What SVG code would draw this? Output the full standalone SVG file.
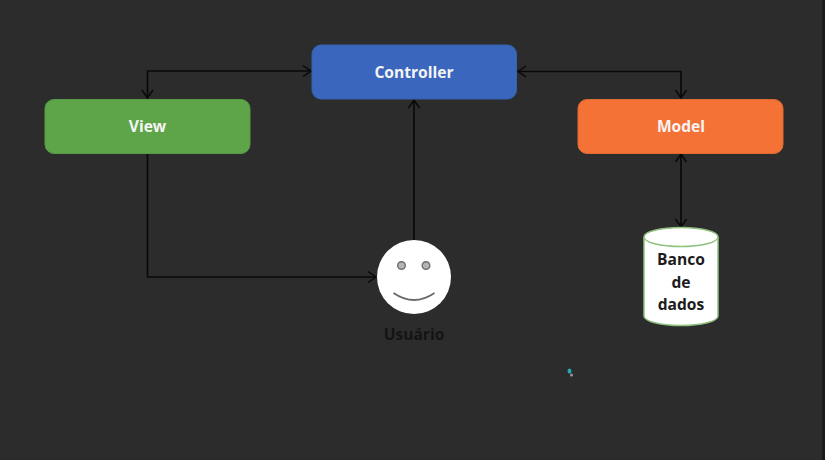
<svg xmlns="http://www.w3.org/2000/svg" width="825" height="460" viewBox="0 0 825 460">
<defs>
<marker id="arrow" markerWidth="14" markerHeight="14" refX="11" refY="7" orient="auto-start-reverse" markerUnits="userSpaceOnUse">
<path d="M3 1.500 L11 7 L3 12.500" fill="none" stroke="#080808" stroke-width="1.500"/>
</marker>
</defs>
<style>
.box{stroke-width:1}
.lbl{font-family:"Open Sans","Liberation Sans",sans-serif;font-weight:700;font-size:15.600px;fill:#f4f4f4;text-anchor:middle}
.dark{font-family:"Open Sans","Liberation Sans",sans-serif;font-weight:700;font-size:15.600px;fill:#1c1c1c;text-anchor:middle}
.conn{fill:none;stroke:#080808;stroke-width:1.600}
</style>
<rect width="825" height="460" fill="#2c2c2c"/>
<rect x="822" width="3" height="460" fill="#1b1b1b"/>
<g id="connectors">
<path class="conn" d="M311 71 H147.500 V98" marker-start="url(#arrow)" marker-end="url(#arrow)"/>
<path class="conn" d="M518 71.500 H681 V98" marker-start="url(#arrow)" marker-end="url(#arrow)"/>
<path class="conn" d="M147.500 154 V277 H376" marker-end="url(#arrow)"/>
<path class="conn" d="M414 240 V100" marker-end="url(#arrow)"/>
<path class="conn" d="M681 154 V227" marker-start="url(#arrow)" marker-end="url(#arrow)"/>
</g>
<g id="controller">
<rect class="box" x="312" y="45" width="204.500" height="54" rx="9" fill="#3b66bd" stroke="#3560ae"/>
<text class="lbl" x="414" y="78">Controller</text>
</g>
<g id="view">
<rect class="box" x="45" y="99.500" width="205" height="54" rx="9" fill="#5ea549" stroke="#569a44"/>
<text class="lbl" x="147.500" y="132">View</text>
</g>
<g id="model">
<rect class="box" x="578" y="99.500" width="205" height="54" rx="9" fill="#f47236" stroke="#e06a32"/>
<text class="lbl" x="681" y="132">Model</text>
</g>
<g id="usuario">
<circle cx="414" cy="277" r="37" fill="#fff"/>
<circle cx="401.500" cy="265.500" r="3.800" fill="#b5b5b5" stroke="#6d6d6d" stroke-width="1.400"/>
<circle cx="426" cy="265.500" r="3.800" fill="#b5b5b5" stroke="#6d6d6d" stroke-width="1.400"/>
<path d="M393.500 293 Q414 307 434.500 293" fill="none" stroke="#6a6a6a" stroke-width="1.800"/>
<text class="dark" x="414" y="340" style="fill:#141414">Usuário</text>
</g>
<g id="banco">
<path d="M644 237 A37 9.500 0 0 1 718 237 V316 A37 9.500 0 0 1 644 316 Z" fill="#fff" stroke="#8fc27e" stroke-width="1.500"/>
<path d="M644 237 A37 9.500 0 0 0 718 237" fill="none" stroke="#8fc27e" stroke-width="1.500"/>
<text class="dark" x="681" y="265">Banco</text>
<text class="dark" x="681" y="288">de</text>
<text class="dark" x="681" y="310">dados</text>
</g>
<ellipse cx="569.500" cy="371" rx="2" ry="2.500" fill="#25a9b5"/>
<circle cx="571.500" cy="375" r="1.500" fill="#9a9a9a"/>
</svg>
